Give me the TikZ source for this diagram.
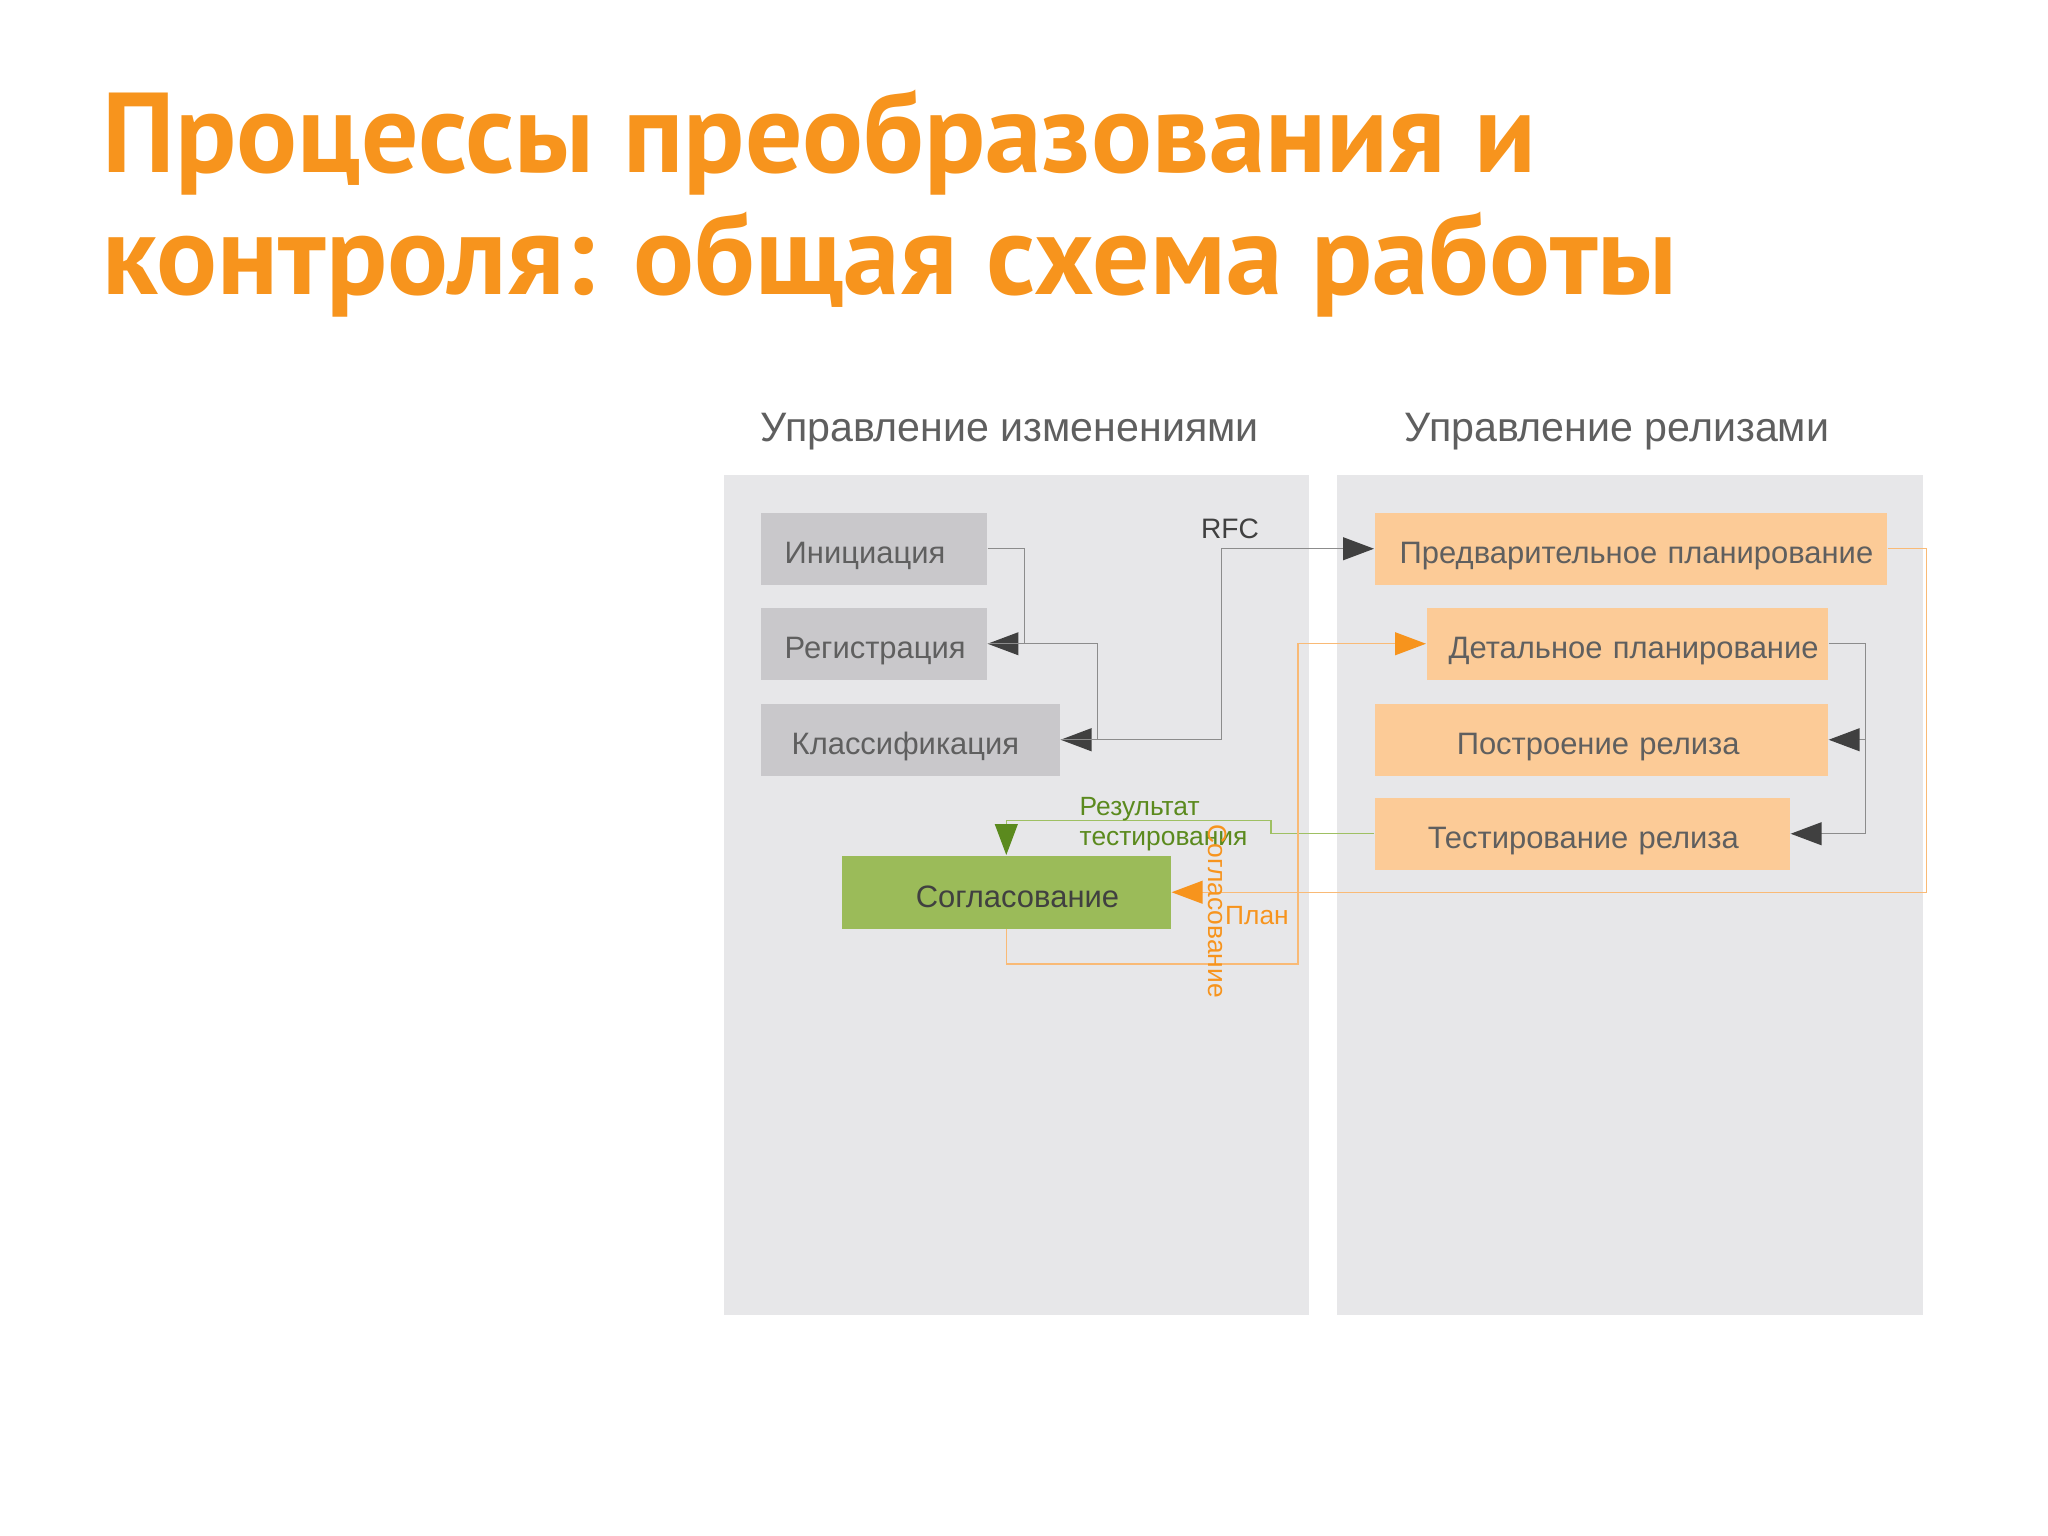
\documentclass[tikz,border=0pt]{standalone}
\usepackage{fontspec}
\setmainfont{Liberation Sans}
\newfontfamily\titlefont{PT Sans}
\usetikzlibrary{arrows.meta}
\definecolor{ttl}{HTML}{F7941D}
\definecolor{panelc}{HTML}{E7E7E9}
\definecolor{gboxc}{HTML}{C9C8CB}
\definecolor{pboxc}{HTML}{FCCB97}
\definecolor{grboxc}{HTML}{9BBB59}
\definecolor{txtc}{HTML}{5F5F5F}
\definecolor{darkc}{HTML}{404040}
\definecolor{glinec}{HTML}{8C8C8C}
\definecolor{grlinec}{HTML}{9FC063}
\definecolor{grdark}{HTML}{5B8A1E}
\definecolor{olinec}{HTML}{F9BA76}
\definecolor{odark}{HTML}{F7941D}
\tikzset{
  boxfont/.style={font=\fontsize{8.8pt}{10pt}\selectfont},
  bx/.style={boxfont, minimum height=0.72cm, inner ysep=0pt, text height=8.5pt, text depth=0pt, align=left, anchor=north west, text=txtc},
  gbox/.style={bx, fill=gboxc},
  pbox/.style={bx, fill=pboxc},
  conn/.style={line width=0.4pt, draw=glinec, -{Triangle[length=8.8pt,width=6.5pt,color=darkc,fill=darkc]}},
  gconn/.style={line width=0.4pt, draw=grlinec, -{Triangle[length=8.8pt,width=6.5pt,color=grdark,fill=grdark]}},
  oconn/.style={line width=0.4pt, draw=olinec, -{Triangle[length=8.8pt,width=6.5pt,color=odark,fill=odark]}},
  titlestyle/.style={anchor=base west, inner sep=0pt, text=ttl, font=\titlefont\bfseries\fontsize{32.3pt}{34pt}\selectfont},
  headstyle/.style={anchor=base west, inner sep=0pt, text=txtc, font=\fontsize{11.7pt}{13pt}\selectfont},
  lblfont/.style={font=\fontsize{7.5pt}{8.3pt}\selectfont, inner sep=0pt}
}
\begin{document}
\begin{tikzpicture}[x=0.01cm,y=-0.01cm]
\useasboundingbox (0,0) rectangle (2048,1535);
\fill[white] (0,0) rectangle (2048,1535);

% title
\node[titlestyle] (title1) at (102,172) {Процессы преобразования и};
\node[titlestyle] (title2) at (102,294) {контроля: общая схема работы};

% panels
\fill[panelc] (724,475) rectangle (1309,1315);
\fill[panelc] (1337,475) rectangle (1923,1315);
\node[headstyle] (h1) at (760,441) {Управление изменениями};
\node[headstyle] (h2) at (1404,441) {Управление релизами};

% left boxes
\node[gbox, minimum width=2.26cm, inner xsep=0.24cm, text width=1.78cm] (init) at (760,512) {\mbox{Инициация}};
\node[gbox, minimum width=2.26cm, inner xsep=0.24cm, text width=1.78cm] (reg) at (760,607) {\mbox{Регистрация}};
\node[gbox, minimum width=2.99cm, inner xsep=0.31cm, text width=2.37cm] (cls) at (760,703) {\mbox{Классификация}};
\node[bx, fill=grboxc, text=darkc, minimum width=3.29cm, minimum height=0.73cm, inner xsep=0.74cm, text width=1.81cm] (agr) at (841,855) {\mbox{Согласование}};

% right boxes
\node[pbox, minimum width=5.12cm, inner xsep=0.25cm, text width=4.62cm] (pre) at (1374,512) {\mbox{Предварительное планирование}};
\node[pbox, minimum width=4.01cm, inner xsep=0.22cm, text width=3.57cm] (det) at (1426,607) {\mbox{Детальное планирование}};
\node[pbox, minimum width=4.53cm, inner xsep=0.82cm, text width=2.89cm] (bld) at (1374,703) {\mbox{Построение релиза}};
\node[pbox, minimum width=4.15cm, inner xsep=0.53cm, text width=3.09cm] (tst) at (1374,797) {\mbox{Тестирование релиза}};

% gray connectors
\draw[conn] (init.east) -- ++(37,0) |- (reg.east);
\draw[conn] (reg.east) -- ++(110,0) |- (cls.east);
\draw[conn] (cls.east) -- ++(161,0) |- (pre.west);
\node[lblfont, text=darkc, font=\fontsize{8pt}{9pt}\selectfont] (rfc) at (1230,529) {RFC};
\draw[conn] (det.east) -- ++(37,0) coordinate (dj) |- (bld.east);
\draw[conn] (dj) |- (tst.east);

% green connector
\draw[gconn] (tst.west) -- ++(-103,0) -- ++(0,-13) -| (agr.north);
\node[lblfont, text=grdark, anchor=north west, align=left] (res) at (1079,797) {Результат\\тестирования};

% orange connectors
\draw[oconn] (pre.east) -- ++(39,0) |- (agr.east);
\node[lblfont, text=odark] (plan) at (1257,916) {План};
\coordinate (oc) at (1298,964);
\draw[oconn] (agr.south) |- (oc) |- (det.west);
\node[lblfont, text=odark, rotate=-90] (soglv) at (1218,911) {Согласование};
\end{tikzpicture}
\end{document}
